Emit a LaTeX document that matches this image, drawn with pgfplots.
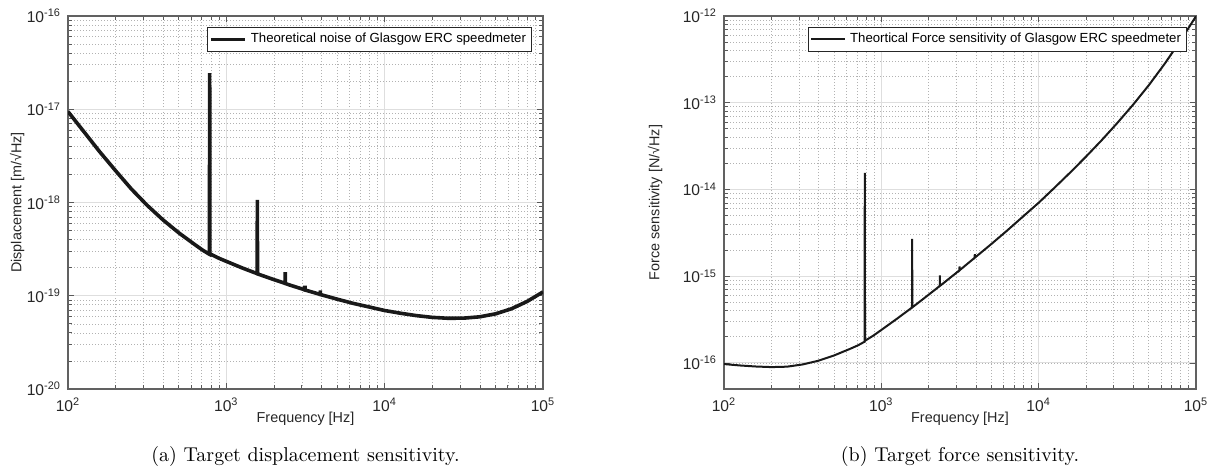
\documentclass[border=0pt]{standalone}
\usepackage{fontspec}
\usepackage{pgfplots}
\pgfplotsset{compat=1.18}
\usepackage{pgfplotstable}
\newfontfamily\hel{Liberation Sans}

% frequency [Hz], displacement [m/sqrt(Hz)], force [N/sqrt(Hz)]
\pgfplotstableread{
f       disp       force
100     9.45e-18   9.70e-17
126     5.75e-18   9.35e-17
158     3.53e-18   9.10e-17
200     2.19e-18   8.95e-17
251     1.40e-18   9.05e-17
316     9.35e-19   9.60e-17
398     6.52e-19   1.06e-16
501     4.73e-19   1.22e-16
631     3.55e-19   1.45e-16
708     3.09e-19   1.59e-16
776     2.81e-19   1.74e-16
782     2.79e-19   1.75e-16
785     2.45e-17   1.55e-14
788     2.82e-19   1.80e-16
891     2.54e-19   2.07e-16
1000    2.34e-19   2.40e-16
1259    1.99e-19   3.24e-16
1566    1.728e-19  4.35e-16
1570    1.067e-18  2.70e-15
1574    1.718e-19  4.37e-16
1995    1.492e-19  6.10e-16
2350    1.360e-19  7.71e-16
2355    1.79e-19   1.02e-15
2360    1.354e-19  7.74e-16
2512    1.305e-19  8.46e-16
3135    1.158e-19  1.168e-15
3140    1.28e-19   1.30e-15
3145    1.152e-19  1.170e-15
3162    1.150e-19  1.181e-15
3920    1.034e-19  1.631e-15
3925    1.14e-19   1.80e-15
3930    1.030e-19  1.633e-15
3981    1.025e-19  1.668e-15
5012    9.20e-20   2.356e-15
6310    8.30e-20   3.367e-15
7943    7.60e-20   4.866e-15
10000   6.95e-20   7.03e-15
12589   6.50e-20   1.045e-14
15849   6.13e-20   1.567e-14
19953   5.87e-20   2.383e-14
25119   5.74e-20   3.69e-14
31623   5.76e-20   5.85e-14
39811   5.95e-20   9.49e-14
50119   6.40e-20   1.593e-13
63096   7.25e-20   2.80e-13
79433   8.70e-20   5.155e-13
100000  1.10e-19   9.94e-13
}\sens

\begin{document}
\begin{tikzpicture}
\path[use as bounding box] (0,0) rectangle (606.5pt,234pt);

% (a) displacement
\begin{axis}[
  at={(34pt,39.5pt)}, anchor=south west,
  scale only axis, width=237.5pt, height=186.5pt,
  xmode=log, ymode=log,
  xmin=1e2, xmax=1e5,
  ymin=1e-20, ymax=1e-16,
  xtick={1e2,1e3,1e4,1e5},
  xticklabels={10\textsuperscript{2},10\textsuperscript{3},10\textsuperscript{4},10\textsuperscript{5}},
  ytick={1e-20,1e-19,1e-18,1e-17,1e-16},
  yticklabels={10\textsuperscript{-20},10\textsuperscript{-19},10\textsuperscript{-18},10\textsuperscript{-17},10\textsuperscript{-16}},
  grid=both,
  major grid style={black!13, line width=0.5pt},
  minor grid style={black!30, line width=0.35pt, dash pattern=on 0.4pt off 1.1pt},
  axis line style={black!62, line width=0.6pt},
  tick style={black!65, line width=0.4pt},
  tick align=inside,
  major tick length=3pt, minor tick length=1.8pt,
  font=\hel\fontsize{7.2}{8.4}\selectfont,
  tick label style={text=black!85, font=\hel\fontsize{7.8}{9}\selectfont},
  xticklabel style={yshift=-1pt},
  label style={text=black!85},
  xlabel={Frequency [Hz]},
  ylabel={Displacement [m/√Hz]},
  xlabel style={at={(axis description cs:0.5,-0.08)}, anchor=center},
  ylabel style={at={(axis description cs:-0.107,0.5)}, anchor=center},
  legend style={at={(rel axis cs:1,1)}, anchor=north east, xshift=-5.5pt, yshift=-5.5pt,
    draw=black!85, line width=0.4pt, fill=white, inner sep=0.8pt,
    font=\hel\fontsize{6.6}{7.5}\selectfont},
  legend cell align=left,
]
\addplot[black!90, line width=1.8pt] table[x=f, y=disp] {\sens};
\addlegendentry{Theoretical noise of Glasgow ERC speedmeter}
\end{axis}

% (b) force
\begin{axis}[
  at={(362pt,39.5pt)}, anchor=south west,
  scale only axis, width=236pt, height=186.5pt,
  xmode=log, ymode=log,
  xmin=1e2, xmax=1e5,
  ymin=5e-17, ymax=1e-12,
  xtick={1e2,1e3,1e4,1e5},
  xticklabels={10\textsuperscript{2},10\textsuperscript{3},10\textsuperscript{4},10\textsuperscript{5}},
  ytick={1e-16,1e-15,1e-14,1e-13,1e-12},
  yticklabels={10\textsuperscript{-16},10\textsuperscript{-15},10\textsuperscript{-14},10\textsuperscript{-13},10\textsuperscript{-12}},
  grid=both,
  major grid style={black!13, line width=0.5pt},
  minor grid style={black!30, line width=0.35pt, dash pattern=on 0.4pt off 1.1pt},
  axis line style={black!62, line width=0.6pt},
  tick style={black!65, line width=0.4pt},
  tick align=inside,
  major tick length=3pt, minor tick length=1.8pt,
  font=\hel\fontsize{7.2}{8.4}\selectfont,
  tick label style={text=black!85, font=\hel\fontsize{7.8}{9}\selectfont},
  xticklabel style={yshift=-1pt},
  label style={text=black!85},
  xlabel={Frequency [Hz]},
  ylabel={Force sensitivity [N/√Hz]},
  xlabel style={at={(axis description cs:0.5,-0.08)}, anchor=center},
  ylabel style={at={(axis description cs:-0.146,0.5)}, anchor=center},
  legend style={at={(rel axis cs:1,1)}, anchor=north east, xshift=-4.5pt, yshift=-5.5pt,
    draw=black!85, line width=0.4pt, fill=white, inner sep=0.8pt,
    font=\hel\fontsize{6.6}{7.5}\selectfont},
  legend cell align=left,
]
\addplot[black!90, line width=1pt] table[x=f, y=force] {\sens};
\addlegendentry{Theortical Force sensitivity of Glasgow ERC speedmeter}
\end{axis}

\node[anchor=base, font=\fontsize{10}{12}\selectfont] at (152.75pt,3.5pt) {(a) Target displacement sensitivity.};
\node[anchor=base, font=\fontsize{10}{12}\selectfont] at (480pt,3.5pt) {(b) Target force sensitivity.};
\end{tikzpicture}
\end{document}
